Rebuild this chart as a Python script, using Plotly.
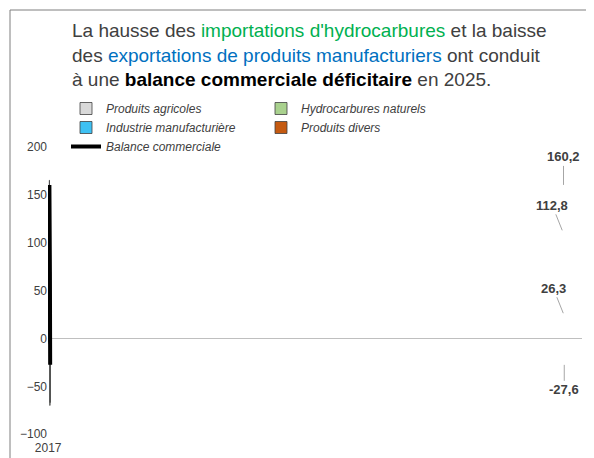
import plotly.graph_objects as go

years = ["2017", "2018", "2019", "2020", "2021", "2022", "2023", "2024", "2025"]
agricoles = [-4, -2, -3, 3, -6, -5, -1, -13, -1]
hydrocarbures = [0, 0, 0, 0, 0, 0, 0, -57, -66]
industrie = [117, 90, 61, 81, 34, 165, 144, 139, 41]
divers = [0, 0, 0, 0, 0, 0, 0, 0, 0]
balance = [112.8, 88.5, 58, 84.5, 26.3, 160.2, 141.7, 69, -27.6]
labelled = {"2017": (-10, -25), "2021": (-10, -25), "2022": (0, -28), "2025": (0, 25)}

fig = go.Figure()
bar_line = dict(color="#404040", width=0.8)
fig.add_bar(x=years, y=agricoles, name="Produits agricoles", marker=dict(color="#d9d9d9", line=bar_line), width=0.45)
fig.add_bar(x=years, y=hydrocarbures, name="Hydrocarbures naturels", marker=dict(color="#a9d18e", line=bar_line), width=0.45)
fig.add_bar(x=years, y=industrie, name="Industrie manufacturière", marker=dict(color="#3ec1f3", line=bar_line), width=0.45)
fig.add_bar(x=years, y=divers, name="Produits divers", marker=dict(color="#c55a11", line=bar_line), width=0.45)
fig.add_scatter(x=years, y=balance, name="Balance commerciale", mode="lines", line=dict(color="black", width=4))

for yr, (ax, ay) in labelled.items():
    v = balance[years.index(yr)]
    fig.add_annotation(x=yr, y=v, text="<b>" + f"{v:.1f}".replace(".", ",") + "</b>",
                       ax=ax, ay=ay, showarrow=True, arrowhead=0, arrowcolor="#a6a6a6",
                       font=dict(size=13, color="#404040"), bgcolor="white")

title = ("La hausse des <span style='color:#00b050'>importations d'hydrocarbures</span> et la baisse<br>"
         "des <span style='color:#0070c0'>exportations de produits manufacturiers</span> ont conduit<br>"
         "à une <b><span style='color:black'>balance commerciale déficitaire</span></b> en 2025.")
fig.add_annotation(xref="paper", yref="paper", x=(62 - 40) / 534, y=1 + (134 - 10) / 297,
                   xanchor="left", yanchor="top", align="left", showarrow=False,
                   text=title, font=dict(size=19, color="#404040"))

fig.add_shape(type="rect", xref="paper", yref="paper",
              x0=-38 / 534, x1=1 + 17 / 534, y0=-24 / 297, y1=1 + 132 / 297,
              line=dict(color="#7f7f7f", width=1))

fig.update_layout(
    width=594, height=458, barmode="relative",
    margin=dict(l=40, r=20, t=134, b=27),
    paper_bgcolor="white", plot_bgcolor="white",
    font=dict(family="Liberation Sans, Arial", size=12, color="#404040"),
    showlegend=True,
    legend=dict(orientation="h", x=(58 - 40) / 534, y=1 + (134 - 86) / 297, xanchor="left", yanchor="top",
                entrywidth=150, font=dict(size=12, color="#404040", style="italic"),
                traceorder="normal", itemwidth=30),
    xaxis=dict(type="category", showline=False, ticks="", tickfont=dict(size=12)),
    yaxis=dict(range=[-105, 205], tickvals=[-100, -50, 0, 50, 100, 150, 200], showgrid=False,
               zeroline=True, zerolinecolor="#bfbfbf", zerolinewidth=1, tickfont=dict(size=12)),
)
fig.write_html("out.html")
